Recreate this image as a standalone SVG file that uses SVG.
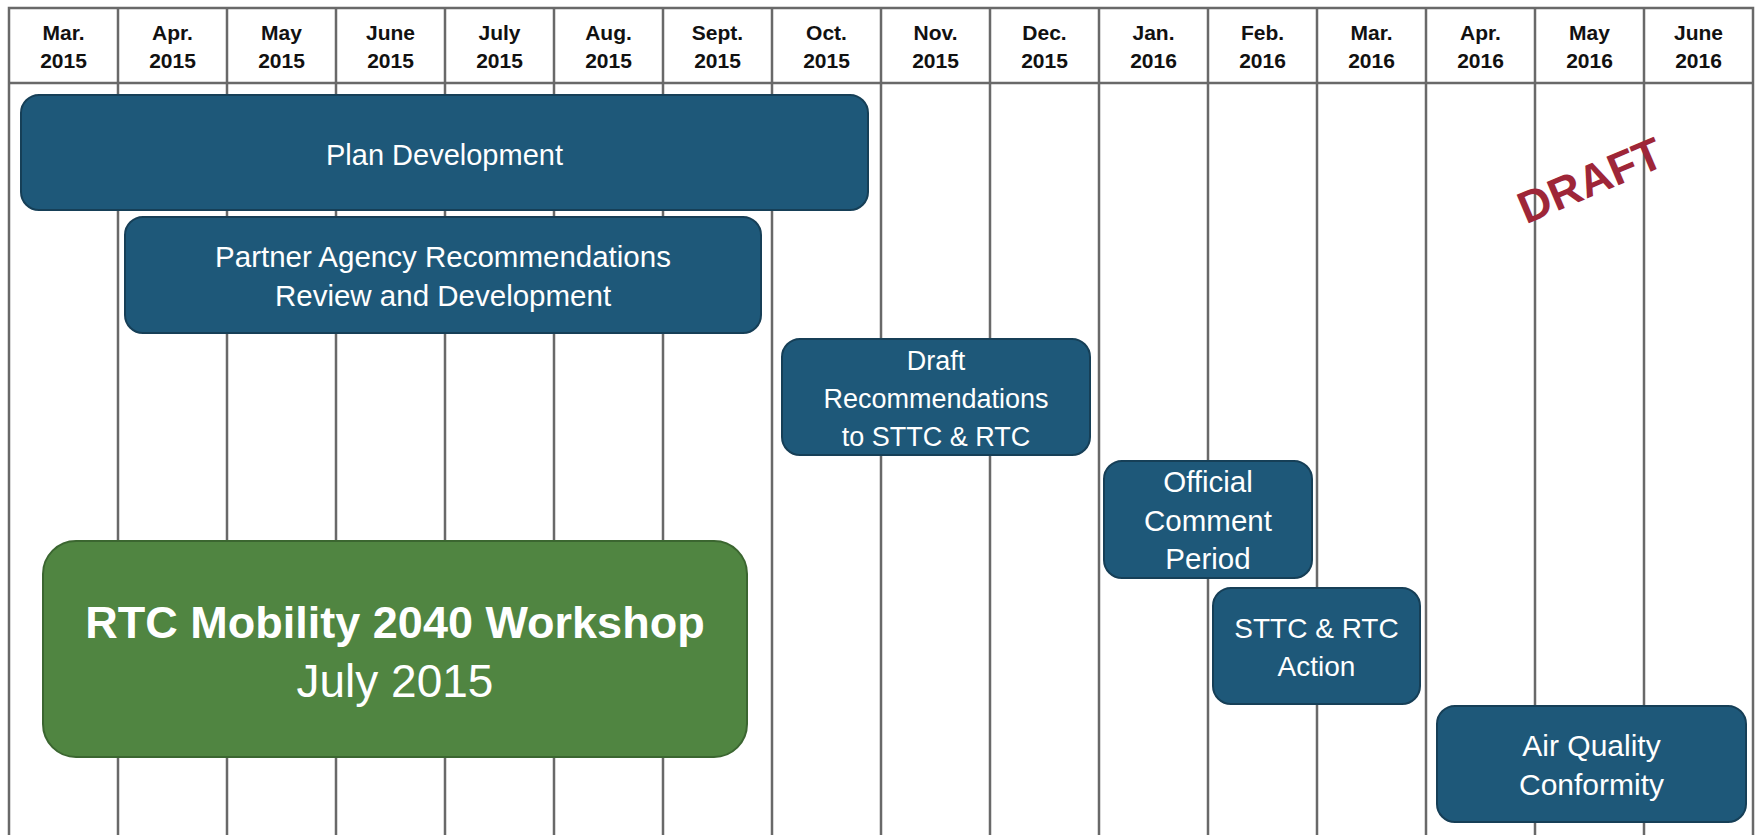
<svg xmlns="http://www.w3.org/2000/svg" width="1757" height="835" viewBox="0 0 1757 835">
<style>
.grid{stroke:#696969;stroke-width:2.5;fill:none}
.hdr{font-family:"Liberation Sans",Arial,sans-serif;font-weight:bold;font-size:21px;fill:#111;text-anchor:middle}
.blue{fill:#1e5879;stroke:#163f57;stroke-width:2}
.green{fill:#508541;stroke:#3b6630;stroke-width:2}
.lbl{font-family:"Liberation Sans",Arial,sans-serif;fill:#fff;text-anchor:middle}
.draft{font-family:"Liberation Sans",Arial,sans-serif;font-weight:bold;font-size:45px;fill:#9e2638;text-anchor:middle}
</style>
<rect width="1757" height="835" fill="#fff"/>
<g id="grid" class="grid">
<rect x="9" y="8" width="1744" height="840"/>
<line x1="9" y1="83" x2="1753" y2="83"/>
<line x1="118" y1="8" x2="118" y2="835"/>
<line x1="227" y1="8" x2="227" y2="835"/>
<line x1="336" y1="8" x2="336" y2="835"/>
<line x1="445" y1="8" x2="445" y2="835"/>
<line x1="554" y1="8" x2="554" y2="835"/>
<line x1="663" y1="8" x2="663" y2="835"/>
<line x1="772" y1="8" x2="772" y2="835"/>
<line x1="881" y1="8" x2="881" y2="835"/>
<line x1="990" y1="8" x2="990" y2="835"/>
<line x1="1099" y1="8" x2="1099" y2="835"/>
<line x1="1208" y1="8" x2="1208" y2="835"/>
<line x1="1317" y1="8" x2="1317" y2="835"/>
<line x1="1426" y1="8" x2="1426" y2="835"/>
<line x1="1535" y1="8" x2="1535" y2="835"/>
<line x1="1644" y1="8" x2="1644" y2="835"/>
</g>
<g id="header" class="hdr">
<text x="63.5" y="40">Mar.</text><text x="63.5" y="68">2015</text>
<text x="172.5" y="40">Apr.</text><text x="172.5" y="68">2015</text>
<text x="281.5" y="40">May</text><text x="281.5" y="68">2015</text>
<text x="390.5" y="40">June</text><text x="390.5" y="68">2015</text>
<text x="499.5" y="40">July</text><text x="499.5" y="68">2015</text>
<text x="608.5" y="40">Aug.</text><text x="608.5" y="68">2015</text>
<text x="717.5" y="40">Sept.</text><text x="717.5" y="68">2015</text>
<text x="826.5" y="40">Oct.</text><text x="826.5" y="68">2015</text>
<text x="935.5" y="40">Nov.</text><text x="935.5" y="68">2015</text>
<text x="1044.5" y="40">Dec.</text><text x="1044.5" y="68">2015</text>
<text x="1153.5" y="40">Jan.</text><text x="1153.5" y="68">2016</text>
<text x="1262.5" y="40">Feb.</text><text x="1262.5" y="68">2016</text>
<text x="1371.5" y="40">Mar.</text><text x="1371.5" y="68">2016</text>
<text x="1480.5" y="40">Apr.</text><text x="1480.5" y="68">2016</text>
<text x="1589.5" y="40">May</text><text x="1589.5" y="68">2016</text>
<text x="1698.5" y="40">June</text><text x="1698.5" y="68">2016</text>
</g>
<g id="connectors"></g>
<g id="plan-development">
<rect class="blue" x="21" y="95" width="847" height="115" rx="18"/>
<text class="lbl" x="444.5" y="165" font-size="29">Plan Development</text>
</g>
<g id="partner-agency">
<rect class="blue" x="125" y="217" width="636" height="116" rx="18"/>
<text class="lbl" x="443" y="267" font-size="29.5">Partner Agency Recommendations</text>
<text class="lbl" x="443" y="306" font-size="29.5">Review and Development</text>
</g>
<g id="draft-recommendations">
<rect class="blue" x="782" y="339" width="308" height="116" rx="18"/>
<text class="lbl" x="936" y="370" font-size="27">Draft</text>
<text class="lbl" x="936" y="408" font-size="27">Recommendations</text>
<text class="lbl" x="936" y="446" font-size="27">to STTC &amp; RTC</text>
</g>
<g id="official-comment">
<rect class="blue" x="1104" y="461" width="208" height="117" rx="18"/>
<text class="lbl" x="1208" y="492" font-size="29.5">Official</text>
<text class="lbl" x="1208" y="531" font-size="29.5">Comment</text>
<text class="lbl" x="1208" y="569" font-size="29.5">Period</text>
</g>
<g id="sttc-rtc-action">
<rect class="blue" x="1213" y="588" width="207" height="116" rx="18"/>
<text class="lbl" x="1316.5" y="638" font-size="28">STTC &amp; RTC</text>
<text class="lbl" x="1316.5" y="676" font-size="28">Action</text>
</g>
<g id="air-quality">
<rect class="blue" x="1437" y="706" width="309" height="116" rx="18"/>
<text class="lbl" x="1591.5" y="756" font-size="30">Air Quality</text>
<text class="lbl" x="1591.5" y="795" font-size="30">Conformity</text>
</g>
<g id="workshop">
<rect class="green" x="43" y="541" width="704" height="216" rx="33"/>
<text class="lbl" x="395" y="638" font-size="45" font-weight="bold">RTC Mobility 2040 Workshop</text>
<text class="lbl" x="395" y="697" font-size="46">July 2015</text>
</g>
<g id="draft-stamp">
<text class="draft" x="1590" y="196" transform="rotate(-23 1590 180)">DRAFT</text>
</g>
</svg>
